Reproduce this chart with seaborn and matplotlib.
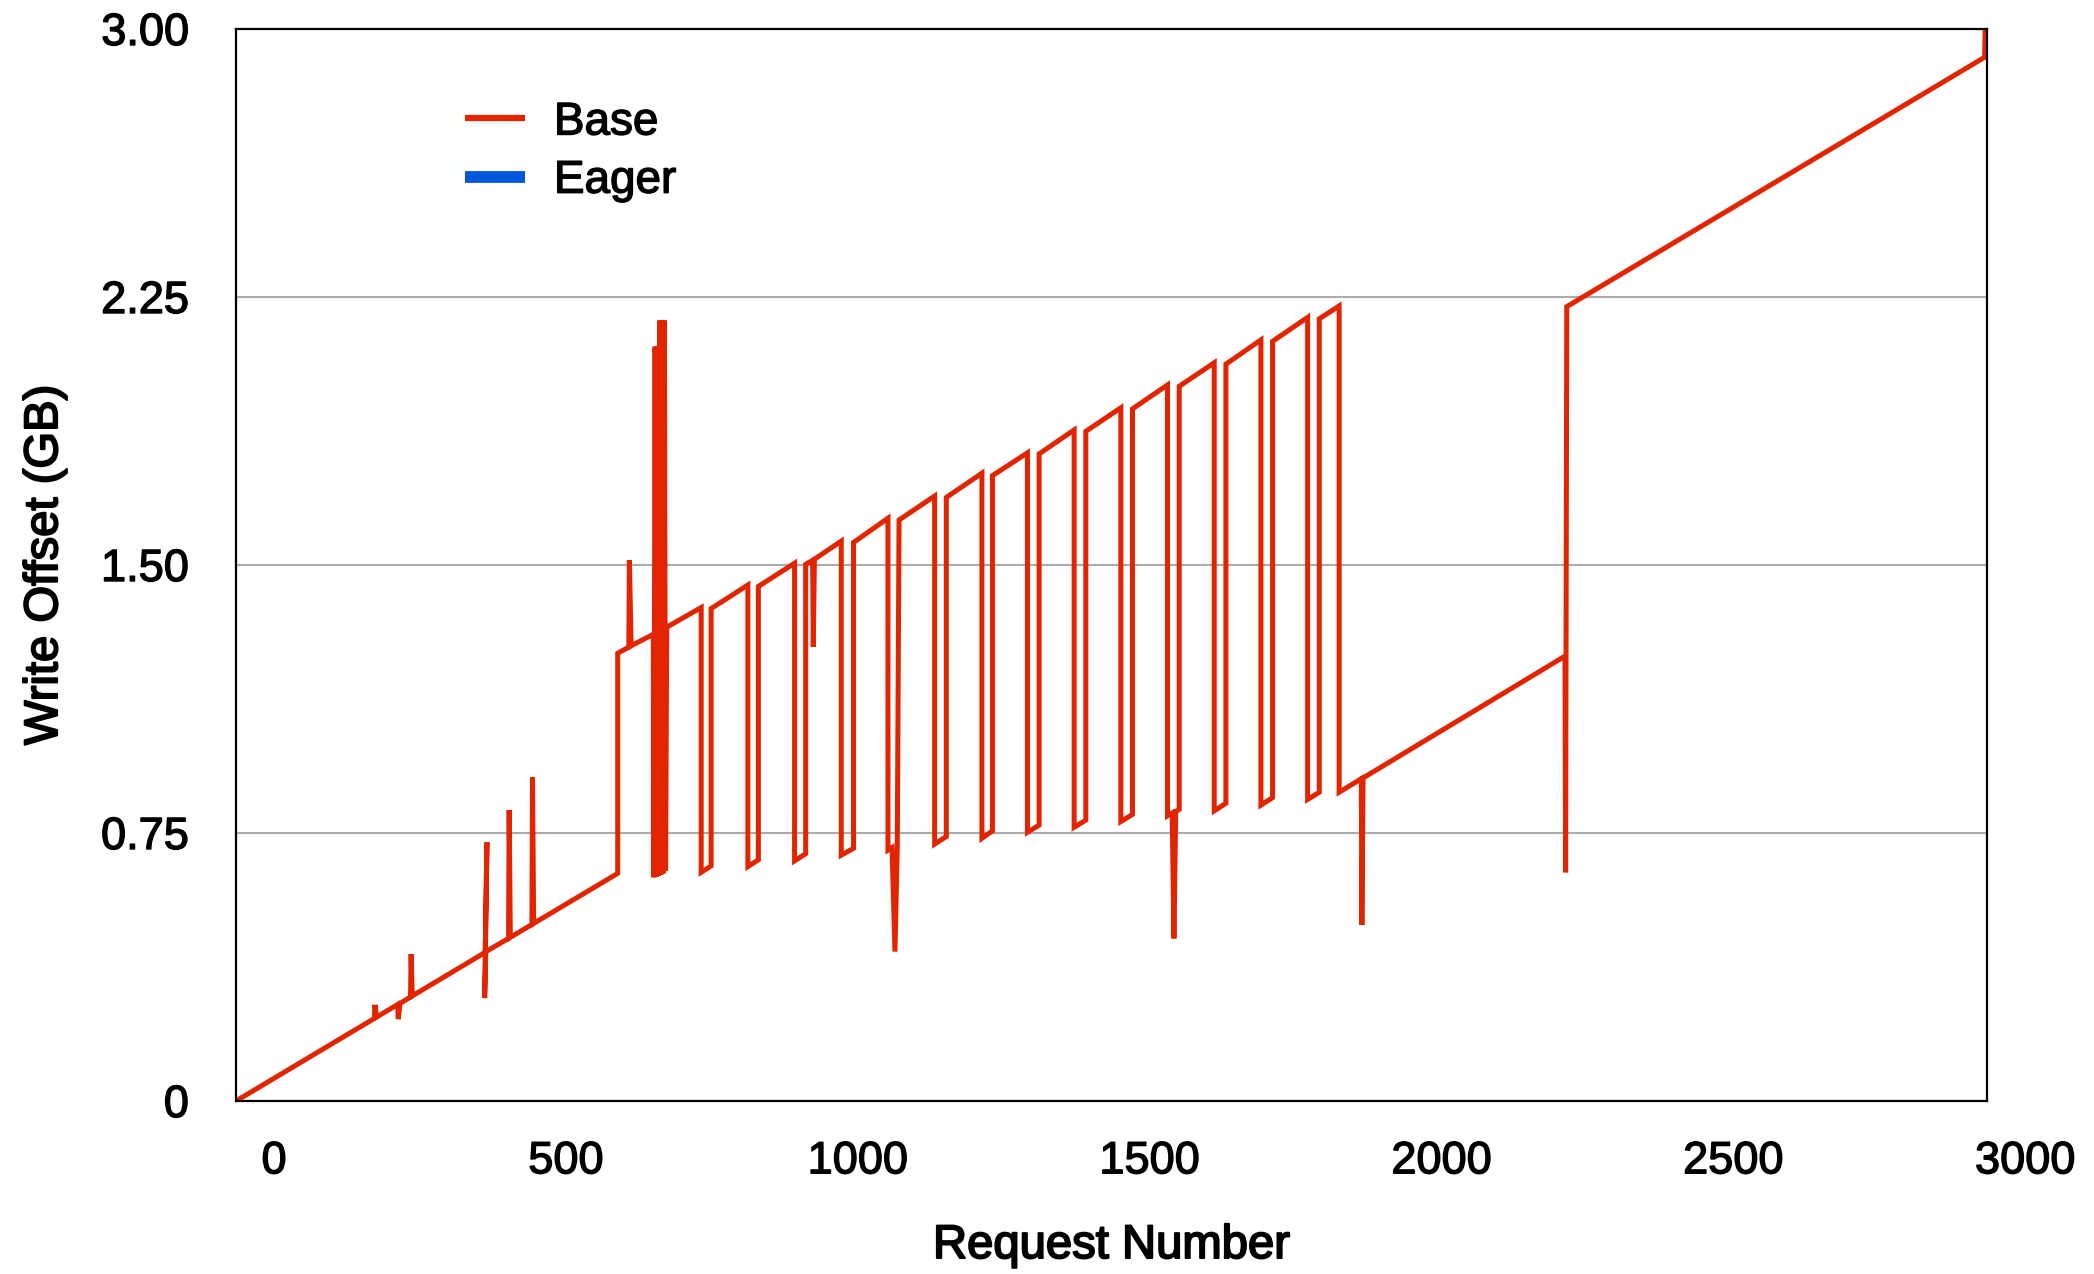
import numpy as np
import pandas as pd
import matplotlib
matplotlib.use('Agg')
import matplotlib.pyplot as plt
import matplotlib.transforms as mtransforms
import matplotlib.patheffects as pe
from matplotlib.lines import Line2D
import seaborn as sns

# vertices of the Base trace (request number, write offset in GB)
# phase 1: single stream with a few short excursions
req_start = [0, 237, 238, 241, 277, 278, 281, 299, 300, 302,
             427, 430, 426, 428, 467, 468, 470, 507, 508, 510, 654, 654]
off_start = [0.0, 0.231, 0.269, 0.235, 0.270, 0.229, 0.273, 0.291, 0.411, 0.294,
             0.416, 0.724, 0.288, 0.418, 0.455, 0.814, 0.458, 0.494, 0.906, 0.497, 0.637, 1.253]

# phase 2: spike + dense cluster before the sawtooth
req_cluster = [673, 674, 677, 715, 716, 718, 720, 722, 724, 726, 728, 730, 732, 734, 736, 738]
off_cluster = [1.270, 1.514, 1.274, 1.306, 0.626, 2.111, 0.628, 2.111, 0.631, 2.184,
               0.634, 2.184, 0.637, 2.184, 0.645, 1.326]

# phase 3: interleaved streams (sawtooth)
req_saw = [797, 797, 814, 814,
           877, 877, 895, 895,
           957, 957, 976, 976, 988, 989, 991,
           1037, 1037, 1058, 1058,
           1117, 1117, 1124, 1129, 1133, 1136,
           1197, 1197, 1217, 1217,
           1278, 1278, 1296, 1296,
           1356, 1356, 1376, 1376,
           1436, 1436, 1456, 1456,
           1516, 1516, 1536, 1536,
           1596, 1596, 1604, 1607, 1610, 1616, 1616,
           1676, 1676, 1696, 1696,
           1756, 1756, 1776, 1776,
           1836, 1836, 1856, 1856,
           1890, 1890]
off_saw = [1.381, 0.640, 0.658, 1.378,
           1.444, 0.656, 0.675, 1.440,
           1.505, 0.672, 0.692, 1.502, 1.513, 1.271, 1.516,
           1.567, 0.688, 0.707, 1.563,
           1.631, 0.702, 0.709, 0.418, 0.714, 1.626,
           1.693, 0.719, 0.740, 1.689,
           1.757, 0.735, 0.756, 1.750,
           1.814, 0.752, 0.772, 1.811,
           1.878, 0.766, 0.786, 1.874,
           1.940, 0.782, 0.802, 1.937,
           2.004, 0.798, 0.806, 0.455, 0.810, 0.816, 2.000,
           2.066, 0.812, 0.833, 2.062,
           2.130, 0.828, 0.849, 2.126,
           2.193, 0.844, 0.864, 2.189,
           2.225, 0.864]

# phase 4: tail
req_end = [1928, 1929, 1931, 2277, 2278, 2280, 2996, 2997]
off_end = [0.902, 0.4925, 0.904, 1.245, 0.640, 2.223, 2.921, 3.02]

x_ticks = [0, 500, 1000, 1500, 2000, 2500, 3000]
y_ticks = [0, 0.75, 1.50, 2.25, 3.00]
y_tick_labels = ['0', '0.75', '1.50', '2.25', '3.00']

RED = '#E22400'
BLUE = '#0057D9'

df = pd.DataFrame({
    'req': req_start + req_cluster + req_saw + req_end,
    'offset': off_start + off_cluster + off_saw + off_end,
})

sns.set_theme(style='white')
plt.rcParams['font.family'] = ['Liberation Sans', 'DejaVu Sans']
plt.rcParams['text.color'] = 'black'
plt.rcParams['axes.labelcolor'] = 'black'
plt.rcParams['xtick.color'] = 'black'
plt.rcParams['ytick.color'] = 'black'

fig = plt.figure(figsize=(20.94, 12.74), dpi=100)
ax = fig.add_axes([236 / 2094, 173 / 1274, 1751 / 2094, 1072 / 1274])

sns.lineplot(data=df, x='req', y='offset', sort=False, estimator=None,
             color=RED, lw=3.6, ax=ax, legend=False)
for ln in ax.get_lines():
    ln.set_solid_joinstyle('miter')
    ln.set_solid_capstyle('butt')

ax.set_xlim(0, 3000)
ax.set_ylim(0, 3.0)
ax.set_yticks(y_ticks)
ax.set_yticklabels(y_tick_labels)
ax.set_xticks(x_ticks)
ax.set_xticklabels([str(t) for t in x_ticks])
ax.tick_params(axis='both', length=0, labelsize=32.5, colors='black')
ax.tick_params(axis='y', pad=34)
ax.tick_params(axis='x', pad=29)

# x labels sit a bit to the right of their ticks in the original
offset = mtransforms.ScaledTranslation(0.38, 0, fig.dpi_scale_trans)
for lab in ax.get_xticklabels():
    lab.set_transform(lab.get_transform() + offset)

ax.yaxis.grid(True, color='#ABABAB', lw=1.5)
ax.xaxis.grid(False)
ax.set_axisbelow(True)
for s in ax.spines.values():
    s.set_visible(True)
    s.set_color('black')
    s.set_linewidth(1.6)

ax.set_xlabel('Request Number', fontsize=34, va='center', color='black')
ax.set_ylabel('Write Offset (GB)', fontsize=34, va='center', color='black')
ax.xaxis.set_label_coords(0.5, -0.1353)
ax.yaxis.set_label_coords(-0.109, 0.5)

handles = [Line2D([], [], color=RED, lw=4.5, solid_capstyle='butt'),
           Line2D([], [], color=BLUE, lw=8.5, solid_capstyle='butt')]
leg = ax.legend(handles, ['Base', 'Eager'], loc='upper left', bbox_to_anchor=(0.1308, 0.9333),
                frameon=False, fontsize=33, borderpad=0, borderaxespad=0,
                handlelength=1.31, handletextpad=0.63, labelspacing=0.31)

# slightly heavier text, closer to the original's medium weight
stroke = [pe.withStroke(linewidth=1.0, foreground='black')]
for t in ax.get_xticklabels() + ax.get_yticklabels() + leg.get_texts():
    t.set_path_effects(stroke)
for t in [ax.xaxis.label, ax.yaxis.label]:
    t.set_path_effects([pe.withStroke(linewidth=1.4, foreground='black')])

fig.savefig('out.png', dpi=100)
